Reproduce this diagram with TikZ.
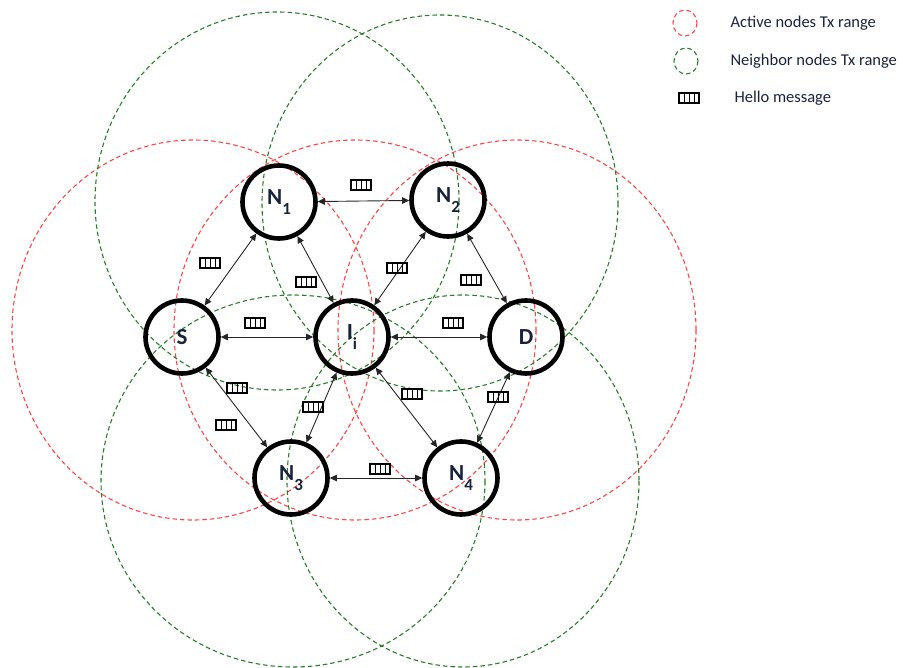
\documentclass[tikz,border=0pt]{standalone}
\usepackage{fontspec}
\setmainfont{Carlito}
\usetikzlibrary{arrows.meta}
\definecolor{txred}{RGB}{250,70,70}
\definecolor{txgreen}{RGB}{40,125,40}
\definecolor{labblue}{RGB}{25,35,60}
% hello message: small box split in four cells
\newcommand {\hello}[2] {\node[hellobox] (#1) at (#2) {};
                        \foreach \k in {1,2,3} \draw[line width=0.8pt] ([xshift=\k*5pt]#1.south west) -- ([xshift=\k*5pt]#1.north west);}
\newcommand {\nsub}[2] {#1\raisebox{-0.85ex}{\fontsize{17}{17}\selectfont #2}}

\begin{document}
\begin{tikzpicture}[x=1pt, y=-1pt,
    txrange/.style={dash pattern=on 4.5pt off 3pt, line width=1.1pt},
    station/.style={circle, draw, line width=4.6pt, minimum size=73pt, inner sep=0pt,
                    font=\fontsize{23}{27}\selectfont\bfseries, text=labblue},
    link/.style={{Triangle[length=7pt,width=6.5pt]}-{Triangle[length=7pt,width=6.5pt]}, line width=0.9pt, draw=black!85},
    hellobox/.style={draw, line width=1.5pt, minimum width=20pt, minimum height=10pt, inner sep=0pt, outer sep=0pt},
    legend/.style={anchor=west, font=\fontsize{16.5}{19}\selectfont, text=labblue}]
    \useasboundingbox (0,0) rectangle (903,668);

    % transmission ranges
    \draw[txrange, txred] (193,330) ellipse [x radius=181, y radius=190];
    \draw[txrange, txred] (355,330) ellipse [x radius=181, y radius=190];
    \draw[txrange, txred] (517,330) ellipse [x radius=179, y radius=190];
    \draw[txrange, txgreen] (277,201) ellipse [x radius=182, y radius=189];
    \draw[txrange, txgreen] (440,203) ellipse [x radius=178, y radius=188];
    \draw[txrange, txgreen] (293,481) ellipse [x radius=192, y radius=186];
    \draw[txrange, txgreen] (463,481) ellipse [x radius=176, y radius=186];

    % nodes
    \node[station] (S) at (182,337) {S};
    \node[station] (I) at (352,337) {\nsub{I}{i}};
    \node[station] (D) at (526,337) {D};
    \node[station] (N1) at (279,202) {\nsub{N}{1}};
    \node[station] (N2) at (448,200) {\nsub{N}{2}};
    \node[station] (N3) at (291,478) {\nsub{N}{3}};
    \node[station] (N4) at (461,478) {\nsub{N}{4}};

    % links
    \draw[link] (N1) -- (N2);
    \draw[link] (S) -- (N1);
    \draw[link] (N1) -- (I);
    \draw[link] (I) -- (N2);
    \draw[link] (N2) -- (D);
    \draw[link] (S) -- (I);
    \draw[link] (I) -- (D);
    \draw[link] (S) -- (N3);
    \draw[link] (I) -- (N3);
    \draw[link] (I) -- (N4);
    \draw[link] (D) -- (N4);
    \draw[link] (N3) -- (N4);

    % hello messages
    \hello{h12}{361,185}
    \hello{hs1}{210,263}
    \hello{h1i}{306,282}
    \hello{hi2}{397,268}
    \hello{h2d}{471,280}
    \hello{hsi}{255,323}
    \hello{hid}{453,323}
    \hello{hsa}{237,388}
    \hello{hs3}{226,425}
    \hello{hi3}{313,407}
    \hello{hi4}{412,394}
    \hello{hd4}{498,397}
    \hello{h34}{380,469}

    % legend
    \draw[txrange, txred] (685,23) ellipse [x radius=12, y radius=13];
    \draw[txrange, txgreen] (686,61) ellipse [x radius=12, y radius=13];
    \hello{hkey}{689,98}
    \node[legend] (k1) at (727,23) {Active nodes Tx range};
    \node[legend] (k2) at (727,61) {Neighbor nodes Tx range};
    \node[legend] (k3) at (731,98) {Hello message};
\end{tikzpicture}
\end{document}
